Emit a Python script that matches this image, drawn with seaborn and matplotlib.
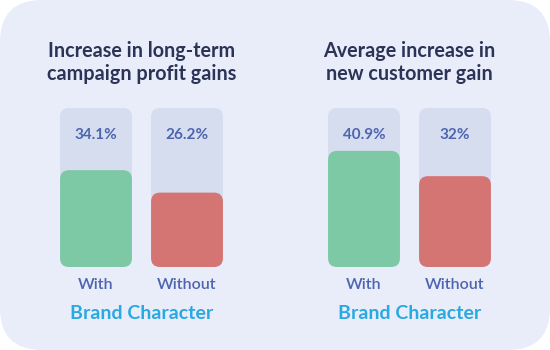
import pandas as pd
import seaborn as sns
import matplotlib.pyplot as plt
from matplotlib.patches import FancyBboxPatch

# chart data
titles = ["Increase in long-term\ncampaign profit gains",
          "Average increase in\nnew customer gain"]
categories = ["With", "Without"]
profit_gain = [34.1, 26.2]
customer_gain = [40.9, 32]
profit_labels = ["34.1%", "26.2%"]
customer_labels = ["40.9%", "32%"]
scale_max = 56

# colours
CARD = "#E9ECF9"
TRACK = "#D5DDEF"
GREEN = "#7DC9A5"
RED = "#D57573"
NAVY = "#2B3456"
BLUE = "#4D65B0"
SKY = "#29A9E1"


def round_bars(ax, radius_px=9):
    # swap seaborn's square bars for rounded ones
    bbox = ax.get_window_extent()
    x0, x1 = ax.get_xlim()
    y0, y1 = ax.get_ylim()
    xu = (x1 - x0) / bbox.width
    yu = (y1 - y0) / bbox.height
    for p in list(ax.patches):
        x, y = p.get_xy()
        w, h = p.get_width(), p.get_height()
        fc = p.get_facecolor()
        z = p.get_zorder()
        p.remove()
        ax.add_patch(FancyBboxPatch(
            (x, y), w, h,
            boxstyle=f"round,pad=0,rounding_size={radius_px * xu}",
            mutation_aspect=yu / xu, facecolor=fc, edgecolor="none", zorder=z))


if __name__ == "__main__":
    sns.set_theme(style="white")
    plt.rcParams['font.family'] = ['Lato', 'DejaVu Sans']

    fig = plt.figure(figsize=(5.5, 3.5), dpi=100)
    fig.patch.set_facecolor("white")
    card = FancyBboxPatch((0, 0), 1, 1,
                          boxstyle="round,pad=0,rounding_size=0.0764",
                          mutation_aspect=550 / 350, transform=fig.transFigure,
                          facecolor=CARD, edgecolor="none", zorder=-5)
    fig.patches.append(card)

    panels = [(titles[0], profit_gain, profit_labels, 50.5),
              (titles[1], customer_gain, customer_labels, 318.5)]

    for title, vals, labels, left_px in panels:
        ax = fig.add_axes([left_px / 550, 1 - 267 / 350, 182 / 550, 159 / 350])
        ax.set_facecolor("none")
        df = pd.DataFrame({"group": categories, "value": vals,
                           "track": [scale_max] * len(vals)})
        sns.barplot(data=df, x="group", y="track", color=TRACK, width=0.79,
                    saturation=1, ax=ax)
        sns.barplot(data=df, x="group", y="value", hue="group",
                    palette=[GREEN, RED], width=0.79, saturation=1,
                    legend=False, ax=ax)
        ax.set_xlim(-0.5, 1.5)
        ax.set_ylim(0, scale_max)
        round_bars(ax)

        for i, lab in enumerate(labels):
            ax.text(i, scale_max * 0.83, lab, ha="center", va="center",
                    fontsize=11, fontweight="bold", color=BLUE)

        sns.despine(ax=ax, left=True, bottom=True)
        ax.set_yticks([])
        ax.set_ylabel("")
        ax.tick_params(axis="x", length=0, pad=8, labelsize=11.5, labelcolor=BLUE)
        for t in ax.get_xticklabels():
            t.set_fontweight("semibold")
        ax.set_xlabel("Brand Character", fontsize=14, fontweight="bold",
                      color=SKY, labelpad=9)
        ax.set_title(title, fontsize=14.2, fontweight="bold", color=NAVY,
                     pad=20, linespacing=1.2)

    fig.savefig("out.png", dpi=100)
